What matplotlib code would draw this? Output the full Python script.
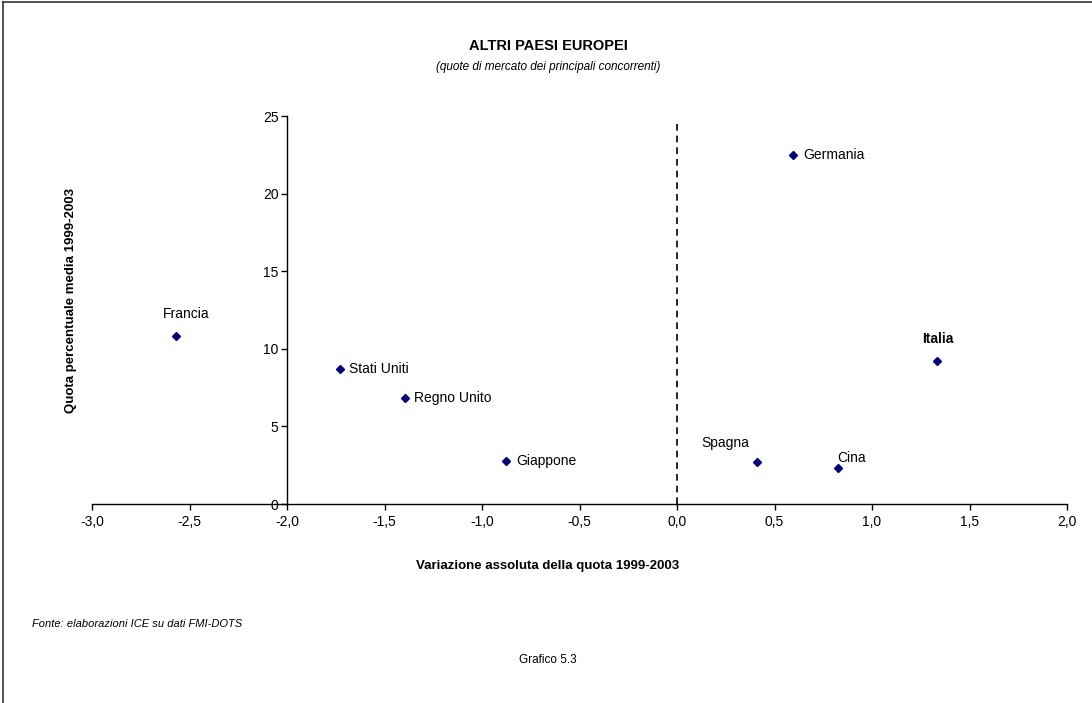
import matplotlib.pyplot as plt
from matplotlib.lines import Line2D

plt.rcParams['font.family'] = ['Liberation Sans', 'DejaVu Sans']

# Dati
paesi = ['Francia', 'Stati Uniti', 'Regno Unito', 'Giappone',
         'Germania', 'Italia', 'Spagna', 'Cina']
variazione = [-2.57, -1.73, -1.395, -0.875, 0.595, 1.335, 0.41, 0.825]
quota = [10.8, 8.7, 6.8, 2.8, 22.5, 9.2, 2.7, 2.3]

x_ticks = [-3.0, -2.5, -2.0, -1.5, -1.0, -0.5, 0.0, 0.5, 1.0, 1.5, 2.0]
x_labels = ['-3,0', '-2,5', '-2,0', '-1,5', '-1,0', '-0,5', '0,0', '0,5', '1,0', '1,5', '2,0']
y_ticks = [0, 5, 10, 15, 20, 25]

# posizione delle etichette (pixel rispetto al punto) e allineamento
offset_etichette = {
    'Francia': (10, 22, 'center'),
    'Stati Uniti': (9, 0, 'left'),
    'Regno Unito': (9, 0, 'left'),
    'Giappone': (10, 0, 'left'),
    'Germania': (10, 0, 'left'),
    'Italia': (0, 22, 'center'),
    'Spagna': (-32, 19, 'center'),
    'Cina': (14, 10, 'center'),
}

fig = plt.figure(figsize=(10.92, 7.03), dpi=100)
ax = fig.add_axes([92 / 1092, 1 - 504 / 703, 975 / 1092, 388 / 703])

ax.plot(variazione, quota, linestyle='none', marker='D', markersize=4.3,
        color='#000080')

# linea tratteggiata verticale a zero
ax.plot([0, 0], [0, 24.5], linestyle=(0, (4, 3)), color='black', linewidth=1.2)

for nome, x, y in zip(paesi, variazione, quota):
    dx, dy, ha = offset_etichette[nome]
    peso = 'bold' if nome == 'Italia' else 'normal'
    ax.annotate(nome, (x, y), xytext=(dx, dy), textcoords='offset pixels',
                ha=ha, va='center', fontsize=10, fontweight=peso)

ax.set_xlim(-3, 2)
ax.set_ylim(0, 25)
ax.spines['top'].set_visible(False)
ax.spines['right'].set_visible(False)
ax.spines['left'].set_position(('data', -2))
ax.spines['bottom'].set_position(('data', 0))
ax.spines['left'].set_linewidth(1.0)
ax.spines['bottom'].set_linewidth(1.0)

ax.set_xticks(x_ticks)
ax.set_xticklabels(x_labels)
ax.set_yticks(y_ticks)
ax.tick_params(axis='both', direction='out', length=4, width=1.0,
               labelsize=10, pad=4)
ax.tick_params(axis='y', pad=2)

# testi
fig.text(548 / 1092, 1 - 46 / 703, 'ALTRI PAESI EUROPEI', ha='center',
         va='center', fontsize=10.5, fontweight='bold')
fig.text(548 / 1092, 1 - 67 / 703, '(quote di mercato dei principali concorrenti)',
         ha='center', va='center', fontsize=8.5, style='italic')
fig.text(548 / 1092, 1 - 566 / 703, 'Variazione assoluta della quota 1999-2003',
         ha='center', va='center', fontsize=9.5, fontweight='bold')
fig.text(71 / 1092, 1 - 300 / 703, 'Quota percentuale media 1999-2003',
         ha='center', va='center', fontsize=9.5, fontweight='bold', rotation=90)
fig.text(32 / 1092, 1 - 624 / 703, 'Fonte: elaborazioni ICE su dati FMI-DOTS',
         ha='left', va='center', fontsize=8, style='italic')
fig.text(548 / 1092, 1 - 660 / 703, 'Grafico 5.3', ha='center', va='center',
         fontsize=8.5)

# cornice
fig.add_artist(Line2D([3 / 1092, 1], [1 - 2 / 703, 1 - 2 / 703],
                      transform=fig.transFigure, color='#333333', linewidth=1.2))
fig.add_artist(Line2D([3 / 1092, 3 / 1092], [0, 1 - 2 / 703],
                      transform=fig.transFigure, color='#333333', linewidth=1.2))

plt.savefig('out.png', dpi=100)
